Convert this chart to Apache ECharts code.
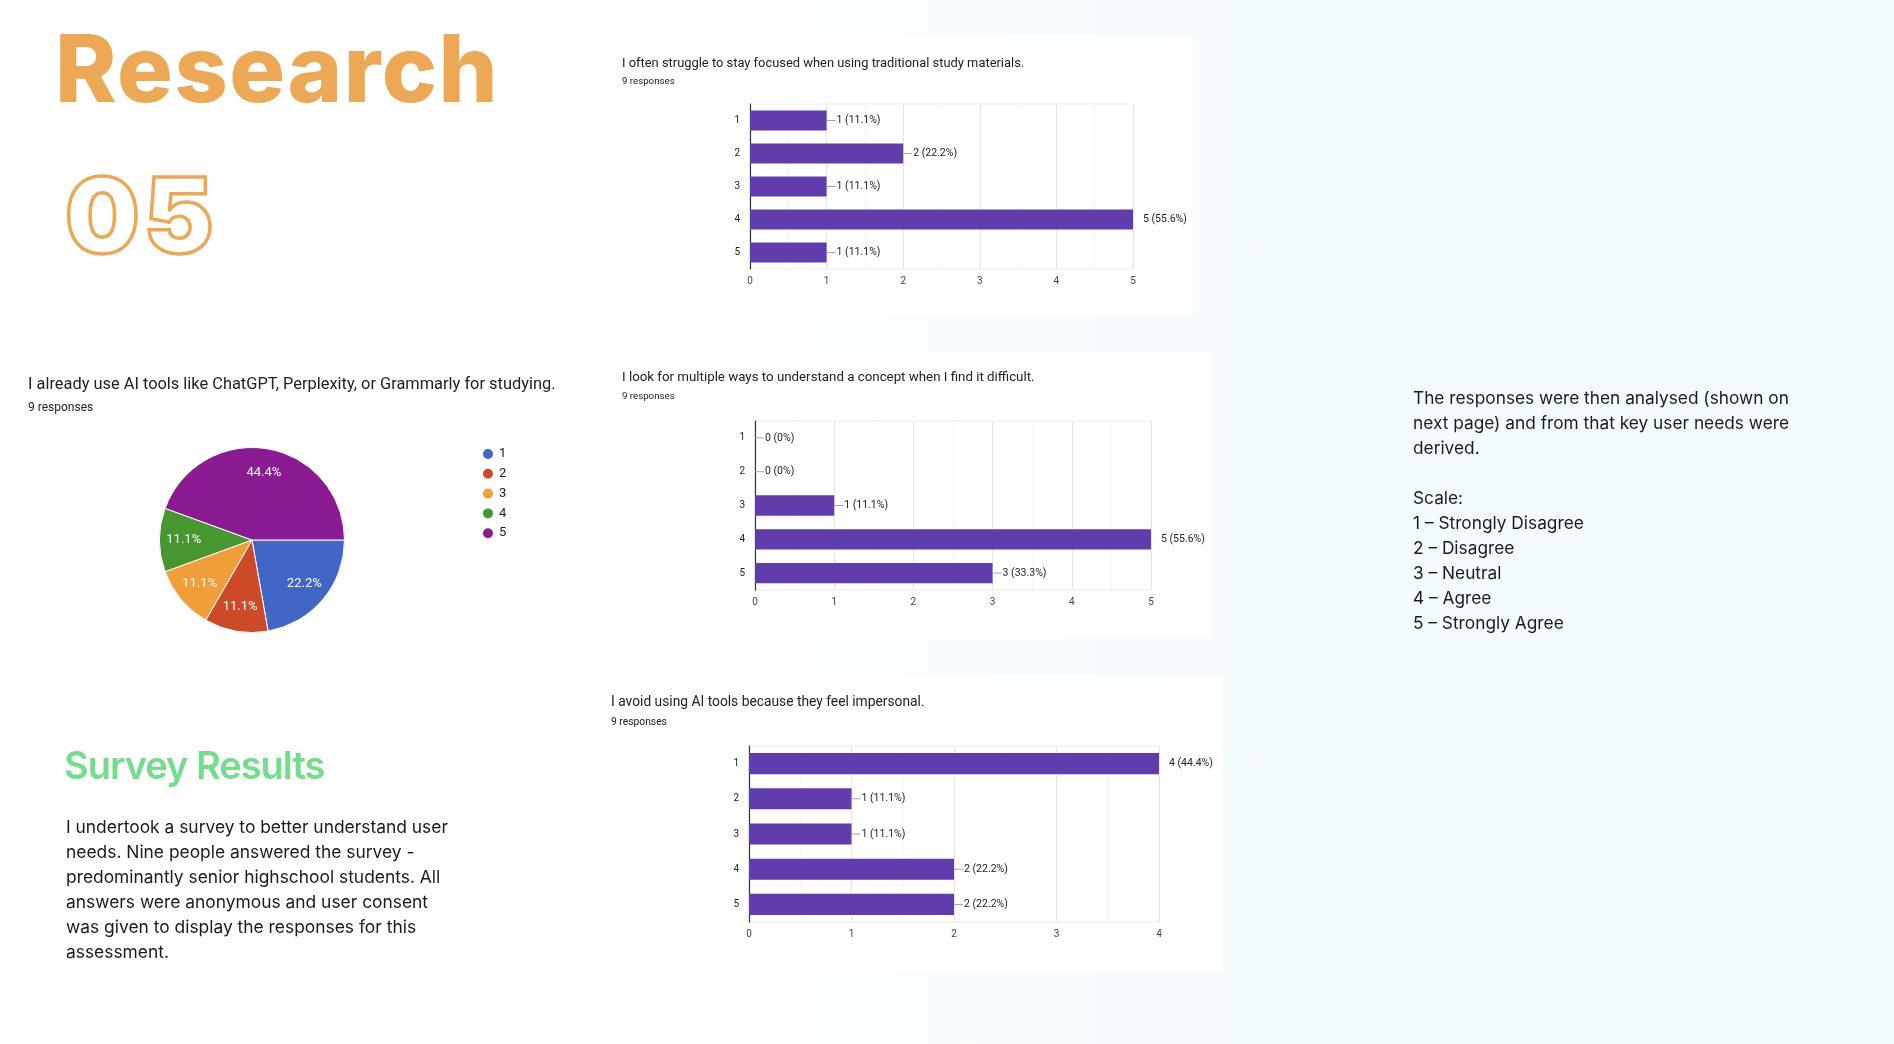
<!DOCTYPE html>
<html>
<head>
<meta charset="utf-8">
<title>Research 05 - Survey Results</title>
<script src="https://cdn.jsdelivr.net/npm/echarts@6/dist/echarts.min.js"></script>
<style>
  html, body { margin: 0; padding: 0; }
  body {
    width: 1894px; height: 1044px; overflow: hidden; position: relative;
    background: linear-gradient(90deg, #ffffff 0%, #ffffff 30%, #f6fcfe 60%, #f1fafd 100%);
    font-family: Inter, "Noto Sans", sans-serif; color: #1b1b1b;
  }
  #chart { position: absolute; left: 0; top: 0; width: 1894px; height: 1044px; }
  .txt { position: absolute; white-space: nowrap; pointer-events: none; }
  #heading { left: 55px; top: 22px; font-size: 93px; line-height: 1; font-weight: 800; color: #eca855; letter-spacing: 1.5px; }
  #number { left: 65px; top: 162px; font-size: 105px; line-height: 1; font-weight: 900; color: transparent; -webkit-text-stroke: 3.5px #eca855; letter-spacing: 4px; }
  #survey { left: 64px; top: 746px; font-size: 38px; line-height: 1; font-weight: 600; color: #72dd8a; letter-spacing: -1px; }
  #intro { left: 66px; top: 814px; font-size: 17.4px; line-height: 25px; }
  #notes { left: 1413px; top: 385px; font-size: 17.3px; line-height: 25px; }
</style>
</head>
<body>
<div id="chart"></div>
<div class="txt" id="heading">Research</div>
<div class="txt" id="number">05</div>
<div class="txt" id="survey">Survey Results</div>
<div class="txt" id="intro">I undertook a survey to better understand user<br>needs. Nine people answered the survey -<br>predominantly senior highschool students. All<br>answers were anonymous and user consent<br>was given to display the responses for this<br>assessment.</div>
<div class="txt" id="notes">The responses were then analysed (shown on<br>next page) and from that key user needs were<br>derived.<br><br>Scale:<br>1 – Strongly Disagree<br>2 – Disagree<br>3 – Neutral<br>4 – Agree<br>5 – Strongly Agree</div>

<script>
// survey data (9 people answered)
var responses = 9;
var scale = ['1', '2', '3', '4', '5'];
var focusCounts = [1, 2, 1, 5, 1];        // struggle to stay focused
var multiWayCounts = [0, 0, 1, 5, 3];     // look for multiple ways
var impersonalCounts = [4, 1, 1, 2, 2];   // avoid AI tools, impersonal
var aiUseCounts = [2, 1, 1, 1, 4];        // already use AI tools (pie)
var focusTicks = 5;
var multiWayTicks = 5;
var impersonalTicks = 4;

var barColor = '#603cad';
var pieColors = ['#4166c6', '#cd4a28', '#f29e38', '#46972f', '#8a1b93'];

var chart = echarts.init(document.getElementById('chart'));

function pct(v) {
  return +(v / responses * 100).toFixed(1);
}

// google forms style label: little grey leader then "n (x%)"
function barLabel(counts) {
  var max = Math.max.apply(null, counts);
  return function (p) {
    var txt = p.value + ' (' + pct(p.value) + '%)';
    return (p.value === max ? '{gap|}' : '{ln|}') + '{t|' + txt + '}';
  };
}

var labelRich = {
  ln: { width: 9, height: 1, backgroundColor: '#a3a3a3' },
  gap: { width: 9 },
  t: { fontSize: 10.5, color: '#222', padding: [0, 0, 0, 1] }
};

// one bar chart = grid + x value axis + y category axis + bar series
var grids = [], xAxes = [], yAxes = [], series = [];
function addBars(idx, box, counts, maxTick, name) {
  grids.push({ left: box[0], top: box[1], width: box[2], height: box[3], show: true, borderColor: '#ececec', borderWidth: 1 });
  xAxes.push({
    type: 'value', gridIndex: idx, min: 0, max: maxTick, interval: 1,
    axisLine: { show: false }, axisTick: { show: false },
    axisLabel: { fontSize: 10, color: '#444', margin: 7 },
    splitLine: { lineStyle: { color: '#e6e6e6' } },
    minorTick: { show: false, splitNumber: 2 },
    minorSplitLine: { show: true, lineStyle: { color: '#eeeeee', type: 'dotted' } }
  });
  yAxes.push({
    type: 'category', gridIndex: idx, data: scale, inverse: true,
    axisLine: { lineStyle: { color: '#333', width: 1.2 } }, axisTick: { show: false },
    axisLabel: { fontSize: 10, color: '#222', margin: 10 }
  });
  series.push({
    name: name, type: 'bar', xAxisIndex: idx, yAxisIndex: idx, data: counts,
    barCategoryGap: '40%', itemStyle: { color: barColor },
    label: { show: true, position: 'right', distance: 0, formatter: barLabel(counts), rich: labelRich },
    emphasis: { disabled: true }
  });
}

addBars(0, [750, 104, 383, 165], focusCounts, focusTicks, 'focus');
addBars(1, [755, 421, 396, 169], multiWayCounts, multiWayTicks, 'multiple ways');
addBars(2, [749, 746, 410, 176], impersonalCounts, impersonalTicks, 'impersonal');

var pieData = aiUseCounts.map(function (v, i) {
  return { name: scale[i], value: v, itemStyle: { color: pieColors[i] } };
});

// the pie itself
series.push({
  name: 'ai use', type: 'pie', center: [252, 540], radius: 92.5, startAngle: 0,
  data: pieData, label: { show: false }, labelLine: { show: false },
  itemStyle: { borderColor: '#fff', borderWidth: 1 }, emphasis: { disabled: true }
});
// transparent ring on top, only to put the % labels further out like google does
series.push({
  name: 'ai use labels', type: 'pie', center: [252, 540], radius: [38, 92.5], startAngle: 0, silent: true,
  data: aiUseCounts.map(function (v, i) { return { name: scale[i], value: v }; }),
  itemStyle: { color: 'rgba(0,0,0,0)' }, labelLine: { show: false },
  label: { show: true, position: 'inside', color: '#fff', fontSize: 13, formatter: function (p) { return pct(p.value) + '%'; } },
  emphasis: { disabled: true }
});

function head(size) {
  return { fontSize: size, fontWeight: 'normal', color: '#202124' };
}

var option = {
  animation: false,
  textStyle: { fontFamily: 'Roboto, "Noto Sans", sans-serif' },
  graphic: [
    { type: 'rect', z: -10, shape: { x: 610, y: 36, width: 583, height: 280 }, style: { fill: '#fff' } },
    { type: 'rect', z: -10, shape: { x: 610, y: 353, width: 602, height: 285 }, style: { fill: '#fff' } },
    { type: 'rect', z: -10, shape: { x: 600, y: 676, width: 622, height: 296 }, style: { fill: '#fff' } }
  ],
  title: [
    { text: 'I often struggle to stay focused when using traditional study materials.', left: 622, top: 57, padding: 0, textStyle: head(12.9) },
    { text: '9 responses', left: 622, top: 77, padding: 0, textStyle: head(9.7) },
    { text: 'I look for multiple ways to understand a concept when I find it difficult.', left: 622, top: 371, padding: 0, textStyle: head(13.3) },
    { text: '9 responses', left: 622, top: 392, padding: 0, textStyle: head(9.7) },
    { text: 'I avoid using AI tools because they feel impersonal.', left: 611, top: 696, padding: 0, textStyle: head(13.8) },
    { text: '9 responses', left: 611, top: 717, padding: 0, textStyle: head(10.3) },
    { text: 'I already use AI tools like ChatGPT, Perplexity, or Grammarly for studying.', left: 28, top: 377, padding: 0, textStyle: head(16.4) },
    { text: '9 responses', left: 28, top: 402, padding: 0, textStyle: head(12) }
  ],
  legend: {
    orient: 'vertical', left: 481, top: 447, padding: 0, icon: 'circle',
    itemWidth: 12, itemHeight: 12, itemGap: 5.8,
    data: scale.map(function (s, i) { return { name: s, itemStyle: { color: pieColors[i] } }; }),
    textStyle: { fontSize: 13, color: '#222' }, selectedMode: false
  },
  grid: grids,
  xAxis: xAxes,
  yAxis: yAxes,
  series: series
};

chart.setOption(option);
</script>
</body>
</html>
